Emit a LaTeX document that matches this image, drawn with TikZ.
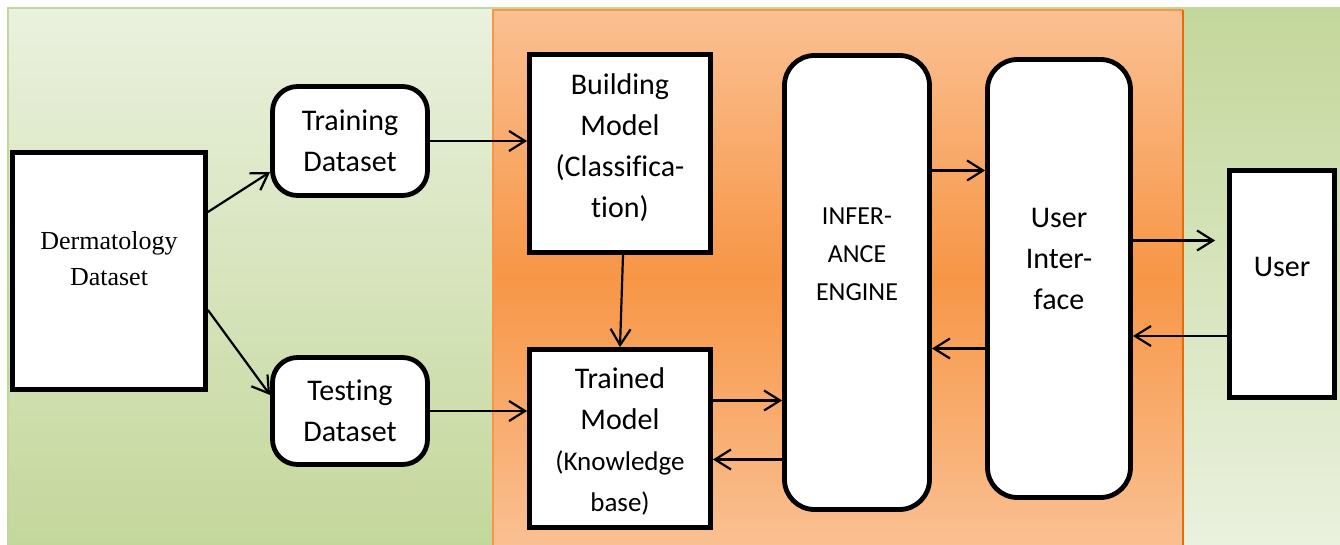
\documentclass[tikz,border=0pt]{standalone}
\usepackage{fontspec}
\setmainfont{Carlito}[Ligatures=NoCommon]
\newfontfamily\serifdd{Liberation Serif}
\usetikzlibrary{arrows.meta,calc}
\definecolor{gLight}{HTML}{EAF1DE}
\definecolor{gDark}{HTML}{C4D79B}
\definecolor{oLight}{HTML}{FAC092}
\definecolor{oDark}{HTML}{F79646}
\definecolor{oEdge}{HTML}{E46C0A}
\begin{document}
\begin{tikzpicture}[x=0.5pt,y=-0.5pt,
  box/.style={draw=black, line width=2.4pt, fill=white, inner sep=0pt},
  rbox/.style={box, rounded corners=12.5pt},
  txt/.style={font=\fontsize{15}{20.5}\selectfont, align=center, inner sep=0pt},
  arr/.style={line width=1.1pt, -{Straight Barb[length=8pt,width=10pt,line width=1.1pt]}}
]
\useasboundingbox (0,0) rectangle (1340,545);
\fill[white] (0,0) rectangle (1340,545);
% backgrounds
\shade[top color=gLight, bottom color=gDark] (8,8) rectangle (494,545);
\shade[top color=gDark, bottom color=gLight] (1183,8) rectangle (1340,545);
\draw[gDark, line width=1pt] (8,545) -- (8,8) -- (1340,8);
\shade[top color=oLight, bottom color=oLight, middle color=oDark] (493,10) rectangle (1183,545);
\draw[oDark, line width=1pt] (493,545) -- (493,10) -- (1183,10);
\draw[oEdge, line width=1pt] (1183,10) -- (1183,545);

% nodes
\node[box, minimum width=96.5pt, minimum height=118.5pt,
  label={[txt, font=\serifdd\fontsize{13}{18}\selectfont, yshift=6pt]center:{Dermatology\\Dataset}}] (dd) at (109,271) {};
\node[rbox, minimum width=77.5pt, minimum height=54.5pt,
  label={[txt]center:{Training\\Dataset}}] (train) at (350,141) {};
\node[rbox, minimum width=77.5pt, minimum height=53.5pt,
  label={[txt]center:{Testing\\Dataset}}] (test) at (350,411) {};
\node[box, minimum width=90.5pt, minimum height=99pt,
  label={[txt, yshift=3pt]center:{Building\\Model\\(Classifica-\\tion)}}] (build) at (620,153.5) {};
\node[box, minimum width=90.5pt, minimum height=89pt,
  label={[txt, yshift=-1.5pt]center:{Trained\\Model\\{\fontsize{13.5}{19}\selectfont (Knowledge}\\{\fontsize{13.5}{19}\selectfont base)}}}] (trained) at (620,438.5) {};
\node[box, rounded corners=15pt, minimum width=72.5pt, minimum height=227pt,
  label={[txt, font=\fontsize{13}{19}\selectfont, yshift=14pt]center:{INFER-\\ANCE\\ENGINE}}] (inf) at (857,282.5) {};
\node[box, rounded corners=15pt, minimum width=71.5pt, minimum height=219pt,
  label={[txt, yshift=10pt]center:{User\\Inter-\\face}}] (ui) at (1059,278.5) {};
\node[box, minimum width=52.5pt, minimum height=113.5pt,
  label={[txt, yshift=8.5pt]center:{User}}] (user) at (1282,284) {};

% connectors
\draw[arr] ([yshift=29.5pt]dd.east) -- ([yshift=-15.5pt]train.west);
\draw[arr] ([yshift=-19.5pt]dd.east) -- ([yshift=8pt]test.west);
\draw[arr] (train.east) -- (train.east -| build.west);
\draw[arr] (test.east) -- (test.east -| trained.west);
\draw[arr] ([xshift=1.5pt]build.south) -- (trained.north);
\draw[arr] ([yshift=19pt]trained.east) -- ([yshift=19pt]trained.east -| inf.west);
\draw[arr] ([yshift=-10.5pt]trained.east -| inf.west) -- ([yshift=-10.5pt]trained.east);
\draw[arr] ([yshift=54pt]ui.west -| inf.east) -- ([yshift=54pt]ui.west);
\draw[arr] ([yshift=-35pt]ui.west) -- ([yshift=-35pt]ui.west -| inf.east);
\draw[arr, shorten >=6pt] ([yshift=19pt]ui.east) -- ([yshift=19pt]ui.east -| user.west);
\draw[arr] ([yshift=-26pt]user.west) -- ([yshift=-26pt]user.west -| ui.east);
\end{tikzpicture}
\end{document}
